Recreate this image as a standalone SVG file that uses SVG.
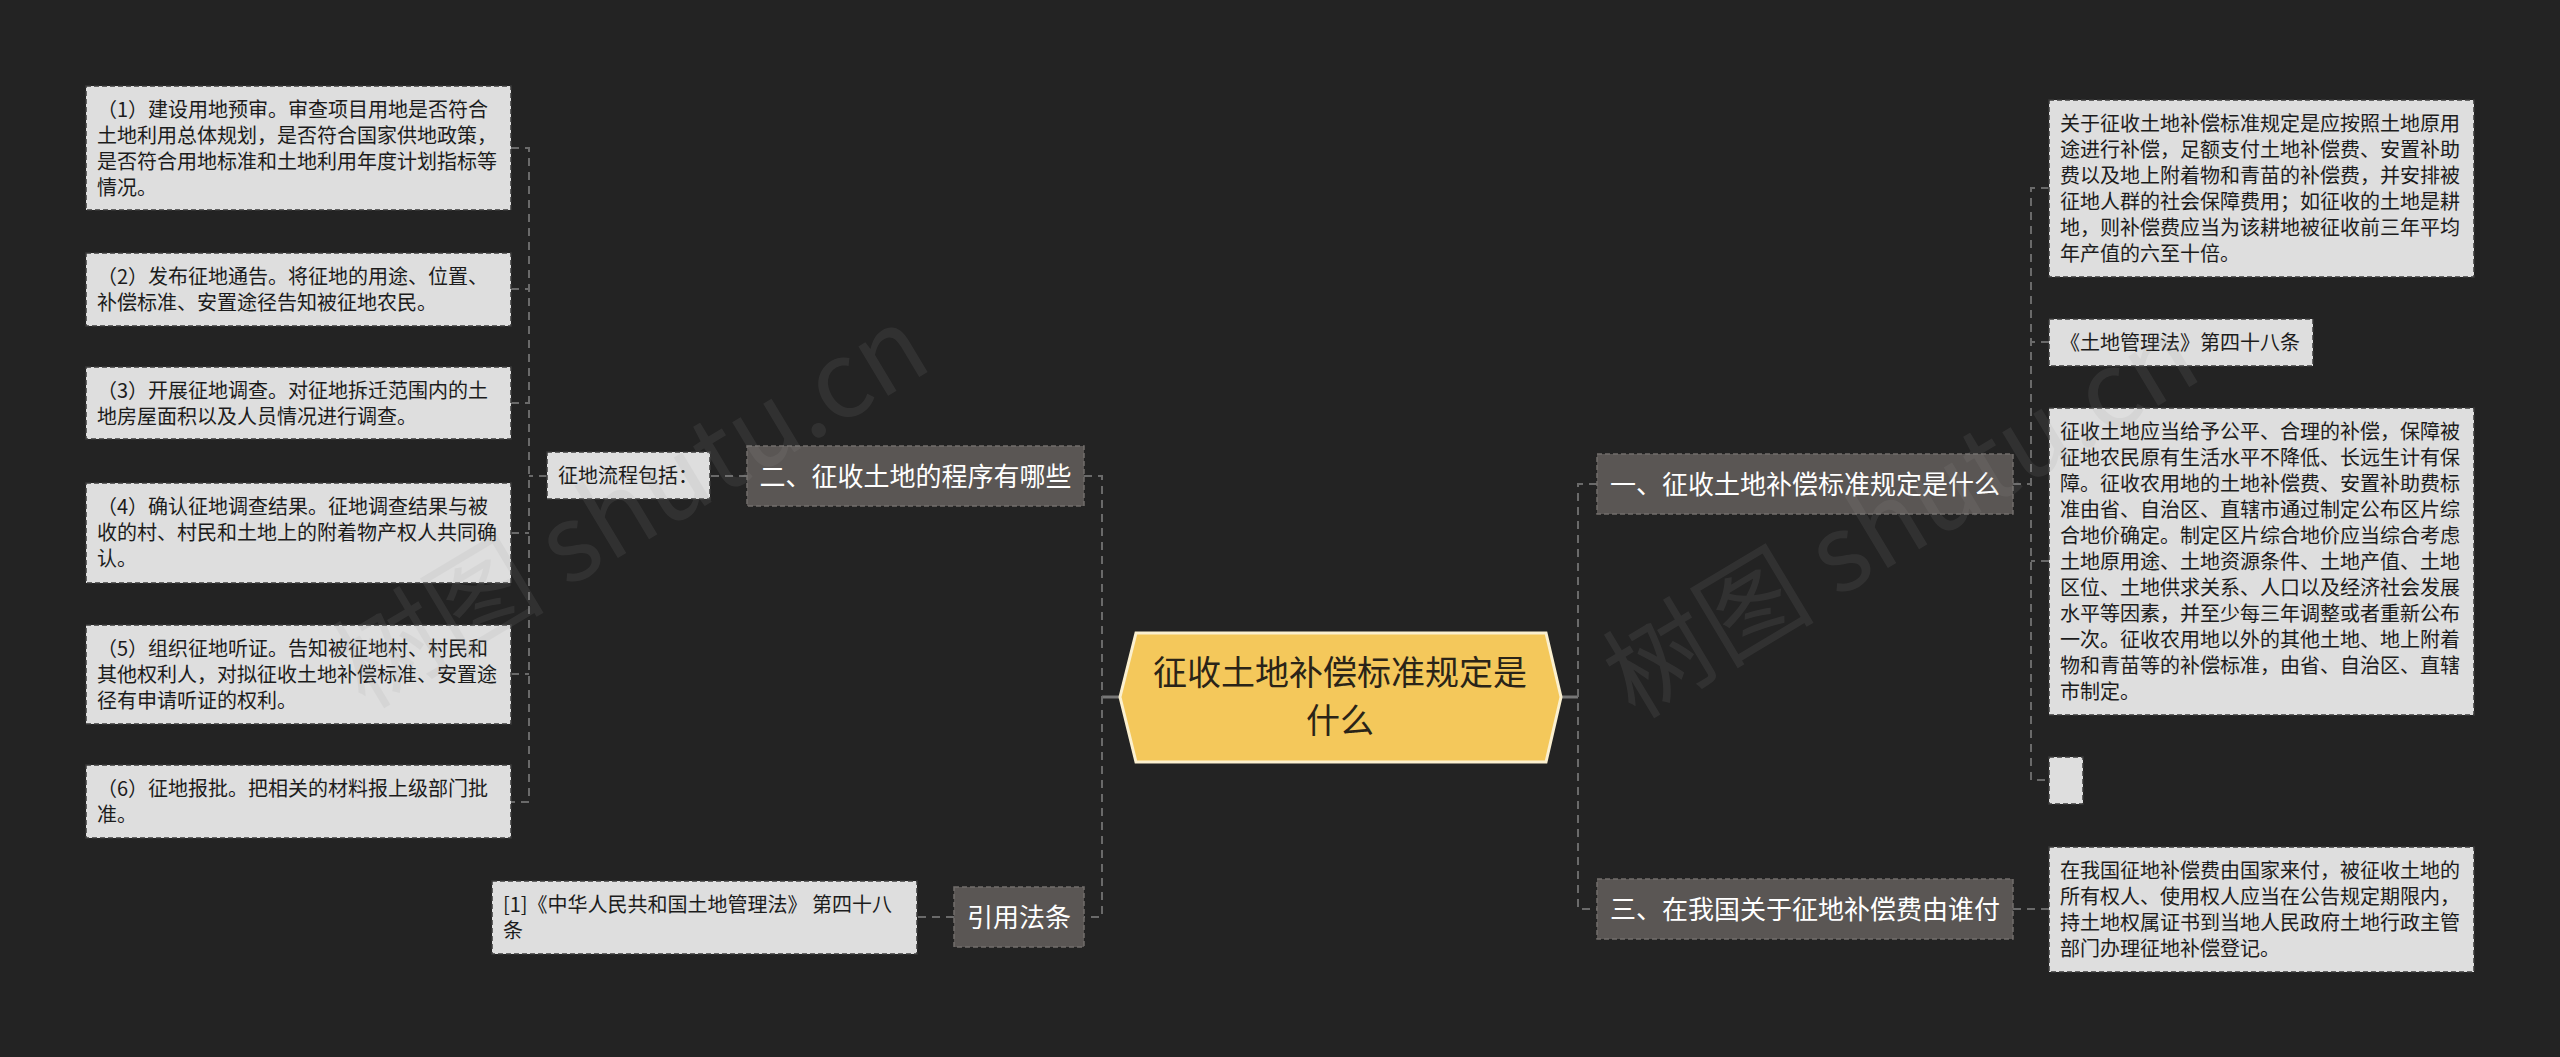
<svg xmlns="http://www.w3.org/2000/svg" width="2560" height="1057" viewBox="0 0 2560 1057">
<style>
text{font-family:"Noto Sans CJK SC","Liberation Sans",sans-serif;}
.leaf rect{fill:#dedede;stroke:#3a3a3a;stroke-width:1.5;stroke-dasharray:5 3;}
.leaf text{font-size:20px;fill:#1c1c1c;}
.l1 rect{fill:#5a5654;stroke:#716d6b;stroke-width:1.5;stroke-dasharray:5 3;}
.l1 text{font-size:26px;fill:#ffffff;text-anchor:middle;}
.conn path{fill:none;stroke:#6a6a6a;stroke-width:2;stroke-dasharray:8 6;}
.conn path.solid{stroke:#777;stroke-width:3;stroke-dasharray:none;}
.wm{font-size:106px;fill:#9a9a9a;opacity:0.12;}
</style>
<rect width="2560" height="1057" fill="#232323"/>

<g class="conn" id="connectors">
  <path class="solid" d="M1102 697H1120"/>
  <path class="solid" d="M1560 697H1578"/>
  <path d="M1084 476H1102V917H1084"/>
  <path d="M1597 484H1578V909H1597"/>
  <path d="M747 476H710"/>
  <path d="M547 476H529"/>
  <path d="M511 148H529V802H511"/>
  <path d="M511 289H529"/>
  <path d="M511 403H529"/>
  <path d="M511 533H529"/>
  <path d="M511 674H529"/>
  <path d="M954 917H917"/>
  <path d="M2013 484H2031"/>
  <path d="M2049 188H2031V780H2049"/>
  <path d="M2049 342H2031"/>
  <path d="M2049 561H2031"/>
  <path d="M2013 909H2049"/>
</g>

<g id="center">
  <polygon points="1120,697 1136,633 1546,633 1561,697 1546,762 1136,762" fill="#f4c85b" stroke="#fbf0cf" stroke-width="3"/>
  <text x="1340" y="685" font-size="34" fill="#2a2418" text-anchor="middle">征收土地补偿标准规定是</text>
  <text x="1340" y="733" font-size="34" fill="#2a2418" text-anchor="middle">什么</text>
</g>

<g id="n2" class="l1"><rect x="747" y="446" width="337" height="60"/><text x="915.5" y="486">二、征收土地的程序有哪些</text></g>
<g id="nref" class="l1"><rect x="954" y="887" width="130" height="60"/><text x="1019" y="927">引用法条</text></g>
<g id="n1" class="l1"><rect x="1597" y="454" width="416" height="60"/><text x="1805" y="494">一、征收土地补偿标准规定是什么</text></g>
<g id="n3" class="l1"><rect x="1597" y="879" width="416" height="60"/><text x="1805" y="919">三、在我国关于征地补偿费由谁付</text></g>

<g id="n2-flow" class="leaf"><rect x="547" y="452" width="163" height="47"/><text x="558" y="483">征地流程包括：</text></g>

<g id="s1" class="leaf"><rect x="86" y="86" width="425" height="124"/>
  <text x="97" y="117">（1）建设用地预审。审查项目用地是否符合</text>
  <text x="97" y="143">土地利用总体规划，是否符合国家供地政策，</text>
  <text x="97" y="169">是否符合用地标准和土地利用年度计划指标等</text>
  <text x="97" y="195">情况。</text></g>
<g id="s2" class="leaf"><rect x="86" y="253" width="425" height="73"/>
  <text x="97" y="284">（2）发布征地通告。将征地的用途、位置、</text>
  <text x="97" y="310">补偿标准、安置途径告知被征地农民。</text></g>
<g id="s3" class="leaf"><rect x="86" y="367" width="425" height="72"/>
  <text x="97" y="398">（3）开展征地调查。对征地拆迁范围内的土</text>
  <text x="97" y="424">地房屋面积以及人员情况进行调查。</text></g>
<g id="s4" class="leaf"><rect x="86" y="483" width="425" height="100"/>
  <text x="97" y="514">（4）确认征地调查结果。征地调查结果与被</text>
  <text x="97" y="540">收的村、村民和土地上的附着物产权人共同确</text>
  <text x="97" y="566">认。</text></g>
<g id="s5" class="leaf"><rect x="86" y="625" width="425" height="99"/>
  <text x="97" y="656">（5）组织征地听证。告知被征地村、村民和</text>
  <text x="97" y="682">其他权利人，对拟征收土地补偿标准、安置途</text>
  <text x="97" y="708">径有申请听证的权利。</text></g>
<g id="s6" class="leaf"><rect x="86" y="765" width="425" height="73"/>
  <text x="97" y="796">（6）征地报批。把相关的材料报上级部门批</text>
  <text x="97" y="822">准。</text></g>

<g id="ref1" class="leaf"><rect x="492" y="881" width="425" height="73"/>
  <text x="503" y="912">[1]《中华人民共和国土地管理法》 第四十八</text>
  <text x="503" y="938">条</text></g>

<g id="a1" class="leaf"><rect x="2049" y="100" width="425" height="177"/>
  <text x="2060" y="131">关于征收土地补偿标准规定是应按照土地原用</text>
  <text x="2060" y="157">途进行补偿，足额支付土地补偿费、安置补助</text>
  <text x="2060" y="183">费以及地上附着物和青苗的补偿费，并安排被</text>
  <text x="2060" y="209">征地人群的社会保障费用；如征收的土地是耕</text>
  <text x="2060" y="235">地，则补偿费应当为该耕地被征收前三年平均</text>
  <text x="2060" y="261">年产值的六至十倍。</text></g>
<g id="a2" class="leaf"><rect x="2049" y="319" width="264" height="47"/>
  <text x="2060" y="350">《土地管理法》第四十八条</text></g>
<g id="a3" class="leaf"><rect x="2049" y="408" width="425" height="307"/>
  <text x="2060" y="439">征收土地应当给予公平、合理的补偿，保障被</text>
  <text x="2060" y="465">征地农民原有生活水平不降低、长远生计有保</text>
  <text x="2060" y="491">障。征收农用地的土地补偿费、安置补助费标</text>
  <text x="2060" y="517">准由省、自治区、直辖市通过制定公布区片综</text>
  <text x="2060" y="543">合地价确定。制定区片综合地价应当综合考虑</text>
  <text x="2060" y="569">土地原用途、土地资源条件、土地产值、土地</text>
  <text x="2060" y="595">区位、土地供求关系、人口以及经济社会发展</text>
  <text x="2060" y="621">水平等因素，并至少每三年调整或者重新公布</text>
  <text x="2060" y="647">一次。征收农用地以外的其他土地、地上附着</text>
  <text x="2060" y="673">物和青苗等的补偿标准，由省、自治区、直辖</text>
  <text x="2060" y="699">市制定。</text></g>
<g id="a4" class="leaf"><rect x="2049" y="757" width="34" height="47"/></g>
<g id="c1" class="leaf"><rect x="2049" y="847" width="425" height="125"/>
  <text x="2060" y="878">在我国征地补偿费由国家来付，被征收土地的</text>
  <text x="2060" y="904">所有权人、使用权人应当在公告规定期限内，</text>
  <text x="2060" y="930">持土地权属证书到当地人民政府土地行政主管</text>
  <text x="2060" y="956">部门办理征地补偿登记。</text></g>

<g id="watermarks">
  <text class="wm" transform="translate(365 710) rotate(-31)">树图 shutu.cn</text>
  <text class="wm" transform="translate(1635 720) rotate(-31)">树图 shutu.cn</text>
</g>
</svg>
